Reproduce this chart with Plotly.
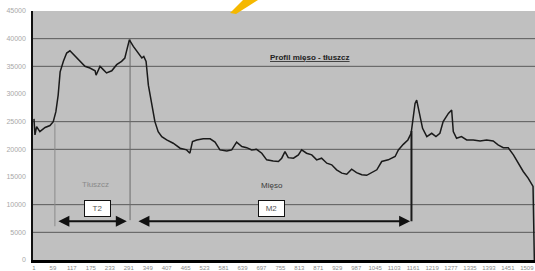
import plotly.graph_objects as go

# ---- data ----
sample_idx = [1, 4, 9, 19, 35, 50, 60, 68, 75, 81, 91, 101, 111, 121, 137, 157, 172, 188, 191,
              203, 213, 223, 239, 254, 269, 279, 284, 293, 305, 320, 331, 337, 344, 351, 361,
              371, 381, 392, 407, 427, 448, 468, 478, 486, 499, 519, 540, 555, 570, 591, 606,
              621, 637, 652, 667, 682, 698, 713, 733, 749, 759, 769, 779, 795, 810, 820, 835,
              851, 866, 881, 897, 912, 927, 943, 958, 973, 988, 1004, 1019, 1034, 1050, 1065,
              1085, 1106, 1116, 1131, 1145, 1155, 1160, 1167, 1172, 1180, 1190, 1203, 1218,
              1231, 1243, 1253, 1269, 1279, 1284, 1294, 1309, 1325, 1345, 1366, 1386, 1406,
              1421, 1437, 1452, 1468, 1483, 1498, 1513, 1528, 1532]
profile = [25500, 22600, 24100, 23200, 23950, 24300, 25000, 26800, 29800, 34000, 35900, 37400,
           37800, 37200, 36200, 35000, 34700, 34200, 33400, 35000, 34400, 33800, 34200, 35300,
           35900, 36500, 37700, 39800, 38600, 37400, 36500, 36800, 35900, 31600, 28000, 25000,
           23200, 22300, 21700, 21100, 20200, 19900, 19300, 21400, 21700, 21900, 21900, 21300,
           19900, 19700, 19900, 21300, 20500, 20300, 19900, 20000, 19300, 18100, 17900, 17800,
           18400, 19600, 18500, 18400, 19000, 19900, 19300, 19000, 18100, 18400, 17500, 17200,
           16300, 15700, 15500, 16400, 15800, 15400, 15300, 15800, 16300, 17800, 18100, 18700,
           19900, 20900, 21700, 22900, 25000, 28300, 28900, 26800, 23800, 22300, 22900, 22300,
           22900, 25000, 26500, 27100, 23200, 22000, 22300, 21700, 21700, 21500, 21700, 21500,
           20800, 20300, 20300, 19000, 17500, 16000, 14800, 13300, 0]

x_ticks = [1, 59, 117, 175, 233, 291, 349, 407, 465, 523, 581, 639, 697, 755, 813, 871, 929,
           987, 1045, 1103, 1161, 1219, 1277, 1335, 1393, 1451, 1509]
y_ticks = [0, 5000, 10000, 15000, 20000, 25000, 30000, 35000, 40000, 45000]
grid_lines = [5000, 10000, 20000, 25000, 35000, 40000]

title_text = "Profil mięso - tłuszcz"
label_fat = "Tłuszcz"
label_meat = "Mięso"
box_fat = "T2"
box_meat = "M2"

FONT = "Liberation Sans"

fig = go.Figure()
fig.add_trace(go.Scatter(x=sample_idx, y=profile, mode="lines",
                         line=dict(color="#1a1a1a", width=1.5), hoverinfo="skip",
                         showlegend=False))

for g in grid_lines:
    fig.add_shape(type="line", xref="paper", x0=0, x1=1, y0=g, y1=g,
                  line=dict(color="#5a5a5a", width=1), layer="below")

# vertical marker lines
fig.add_shape(type="line", x0=65, x1=65, y0=6100, y1=24700,
              line=dict(color="#8a8a8a", width=1), layer="below")
fig.add_shape(type="line", x0=295, x1=295, y0=7200, y1=40000,
              line=dict(color="#6a6a6a", width=1), layer="below")
fig.add_shape(type="line", x0=1156, x1=1156, y0=7000, y1=23300,
              line=dict(color="#1a1a1a", width=2))

# arrows
def double_arrow(x0, x1, y):
    fig.add_annotation(x=x1, y=y, ax=x0, ay=y, xref="x", yref="y", axref="x", ayref="y",
                       showarrow=True, arrowhead=2, arrowsize=1.1, arrowwidth=2,
                       arrowcolor="#111", text="", startarrowhead=2, arrowside="end+start",
                       startarrowsize=1.1)

double_arrow(71, 285, 7000)
double_arrow(316, 1152, 7000)

for xc, t in [(194, box_fat), (729, box_meat)]:
    fig.add_annotation(x=xc, y=9300, text=t, showarrow=False, bgcolor="white",
                       bordercolor="#111", borderwidth=1, borderpad=1,
                       font=dict(family=FONT, size=8, color="#555"), width=23, height=13)
fig.add_annotation(x=188, y=13600, text=label_fat, showarrow=False,
                   font=dict(family=FONT, size=8, color="#8a8a8a"))
fig.add_annotation(x=729, y=13400, text=label_meat, showarrow=False,
                   font=dict(family=FONT, size=8, color="#3a3a3a"))
fig.add_annotation(xref="paper", yref="paper", x=0.552, y=0.84,
                   text="<b><u>" + title_text + "</u></b>", showarrow=False,
                   font=dict(family=FONT, size=8, color="#222"))

# yellow decoration at the top
L, T, B, W, H = 33, 11, 11, 502, 249
def P(px, py):
    return (px - L) / W, (271 - B - py) / H

pts = [P(230, 13), P(236, 14), P(258, 0), P(243, 0)]
path = "M " + " L ".join(f"{a:.4f},{b:.4f}" for a, b in pts) + " Z"
fig.add_shape(type="path", xref="paper", yref="paper", path=path,
              fillcolor="#f5b800", line=dict(width=0))

fig.update_layout(
    width=535, height=271,
    margin=dict(l=L, r=0, t=T, b=B),
    paper_bgcolor="white", plot_bgcolor="#c0c0c0",
    xaxis=dict(range=[-2, 1534], tickmode="array", tickvals=x_ticks,
               ticktext=[str(t) for t in x_ticks], showgrid=False, zeroline=False,
               showline=True, linecolor="#000", linewidth=2.5, ticks="",
               tickfont=dict(family=FONT, size=6, color="#8a8a8a")),
    yaxis=dict(range=[0, 45000], tickmode="array", tickvals=y_ticks,
               ticktext=[str(t) for t in y_ticks], showgrid=False, zeroline=False,
               showline=True, linecolor="#111", linewidth=1.5, ticks="outside",
               ticklen=4, tickcolor="white",
               tickfont=dict(family=FONT, size=7, color="#a8a8a8")),
)

fig.write_html("out.html", config={"displayModeBar": False},
               post_script="document.body.style.margin='0';document.body.style.overflow='hidden';")
